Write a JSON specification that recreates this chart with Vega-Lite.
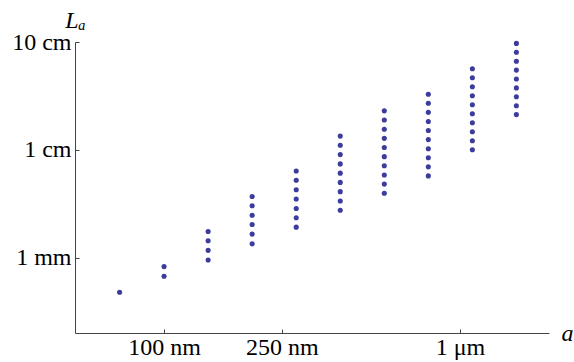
{
  "$schema": "https://vega.github.io/schema/vega-lite/v6.json",
  "width": 474,
  "height": 291,
  "autosize": {"type": "none"},
  "padding": {"left": 75, "top": 42, "right": 25, "bottom": 29},
  "background": "white",
  "config": {
    "view": {"stroke": null},
    "axis": {
      "grid": false,
      "domainColor": "#444",
      "tickColor": "#444",
      "tickSize": -4,
      "labelFont": "Liberation Serif",
      "labelFontSize": 24,
      "labelColor": "black",
      "titleFont": "Liberation Serif",
      "titleFontSize": 24,
      "titleFontStyle": "italic",
      "titleFontWeight": "normal",
      "titleColor": "black"
    }
  },
  "data": {
    "values": [
      {"a": 70.75, "L": 0.4777},
      {"a": 100, "L": 0.8256}, {"a": 100, "L": 0.6717},
      {"a": 140.9, "L": 1.750}, {"a": 140.9, "L": 1.436}, {"a": 140.9, "L": 1.168}, {"a": 140.9, "L": 0.950},
      {"a": 198.5, "L": 3.686}, {"a": 198.5, "L": 3.024}, {"a": 198.5, "L": 2.476}, {"a": 198.5, "L": 2.032}, {"a": 198.5, "L": 1.653}, {"a": 198.5, "L": 1.347},
      {"a": 279.7, "L": 6.370}, {"a": 279.7, "L": 5.214}, {"a": 279.7, "L": 4.268}, {"a": 279.7, "L": 3.494}, {"a": 279.7, "L": 2.860}, {"a": 279.7, "L": 2.342}, {"a": 279.7, "L": 1.918},
      {"a": 394.0, "L": 13.41}, {"a": 394.0, "L": 11.01}, {"a": 394.0, "L": 9.030}, {"a": 394.0, "L": 7.406}, {"a": 394.0, "L": 6.076}, {"a": 394.0, "L": 4.985}, {"a": 394.0, "L": 4.091}, {"a": 394.0, "L": 3.356}, {"a": 394.0, "L": 2.754},
      {"a": 555.1, "L": 22.98}, {"a": 555.1, "L": 18.90}, {"a": 555.1, "L": 15.54}, {"a": 555.1, "L": 12.78}, {"a": 555.1, "L": 10.51}, {"a": 555.1, "L": 8.644}, {"a": 555.1, "L": 7.108}, {"a": 555.1, "L": 5.846}, {"a": 555.1, "L": 4.808}, {"a": 555.1, "L": 3.954},
      {"a": 781.9, "L": 32.79}, {"a": 781.9, "L": 27.01}, {"a": 781.9, "L": 22.25}, {"a": 781.9, "L": 18.33}, {"a": 781.9, "L": 15.10}, {"a": 781.9, "L": 12.44}, {"a": 781.9, "L": 10.24}, {"a": 781.9, "L": 8.438}, {"a": 781.9, "L": 6.952}, {"a": 781.9, "L": 5.728},
      {"a": 1101.6, "L": 56.53}, {"a": 1101.6, "L": 46.65}, {"a": 1101.6, "L": 38.49}, {"a": 1101.6, "L": 31.76}, {"a": 1101.6, "L": 26.21}, {"a": 1101.6, "L": 21.63}, {"a": 1101.6, "L": 17.84}, {"a": 1101.6, "L": 14.73}, {"a": 1101.6, "L": 12.15}, {"a": 1101.6, "L": 10.03},
      {"a": 1551.6, "L": 97.07}, {"a": 1551.6, "L": 80.27}, {"a": 1551.6, "L": 66.37}, {"a": 1551.6, "L": 54.89}, {"a": 1551.6, "L": 45.39}, {"a": 1551.6, "L": 37.53}, {"a": 1551.6, "L": 31.03}, {"a": 1551.6, "L": 25.66}, {"a": 1551.6, "L": 21.22}
    ]
  },
  "mark": {"type": "circle", "size": 26, "opacity": 1, "color": "#3c3c9c"},
  "encoding": {
    "x": {
      "field": "a",
      "type": "quantitative",
      "scale": {"type": "log", "domain": [50, 2000], "nice": false},
      "axis": {
        "values": [100, 250, 1000],
        "labelExpr": "datum.value == 100 ? '100 nm' : datum.value == 250 ? '250 nm' : '1 μm'",
        "labelPadding": 6,
        "labelFlush": false,
        "labelOverlap": false,
        "title": "a",
        "titleX": 492,
        "titleY": 7,
        "titleAlign": "center",
        "titleBaseline": "alphabetic",
        "titleAngle": 0
      }
    },
    "y": {
      "field": "L",
      "type": "quantitative",
      "scale": {"type": "log", "domain": [0.2, 100], "nice": false},
      "axis": {
        "values": [1, 10, 100],
        "labelExpr": "datum.value == 1 ? '1 mm' : datum.value == 10 ? '1 cm' : '10 cm'",
        "labelPadding": 8,
        "labelFlush": false,
        "labelOverlap": false,
        "title": "Lₐ",
        "titleAngle": 0,
        "titleX": 0,
        "titleY": -15,
        "titleAlign": "center",
        "titleBaseline": "alphabetic"
      }
    }
  }
}
